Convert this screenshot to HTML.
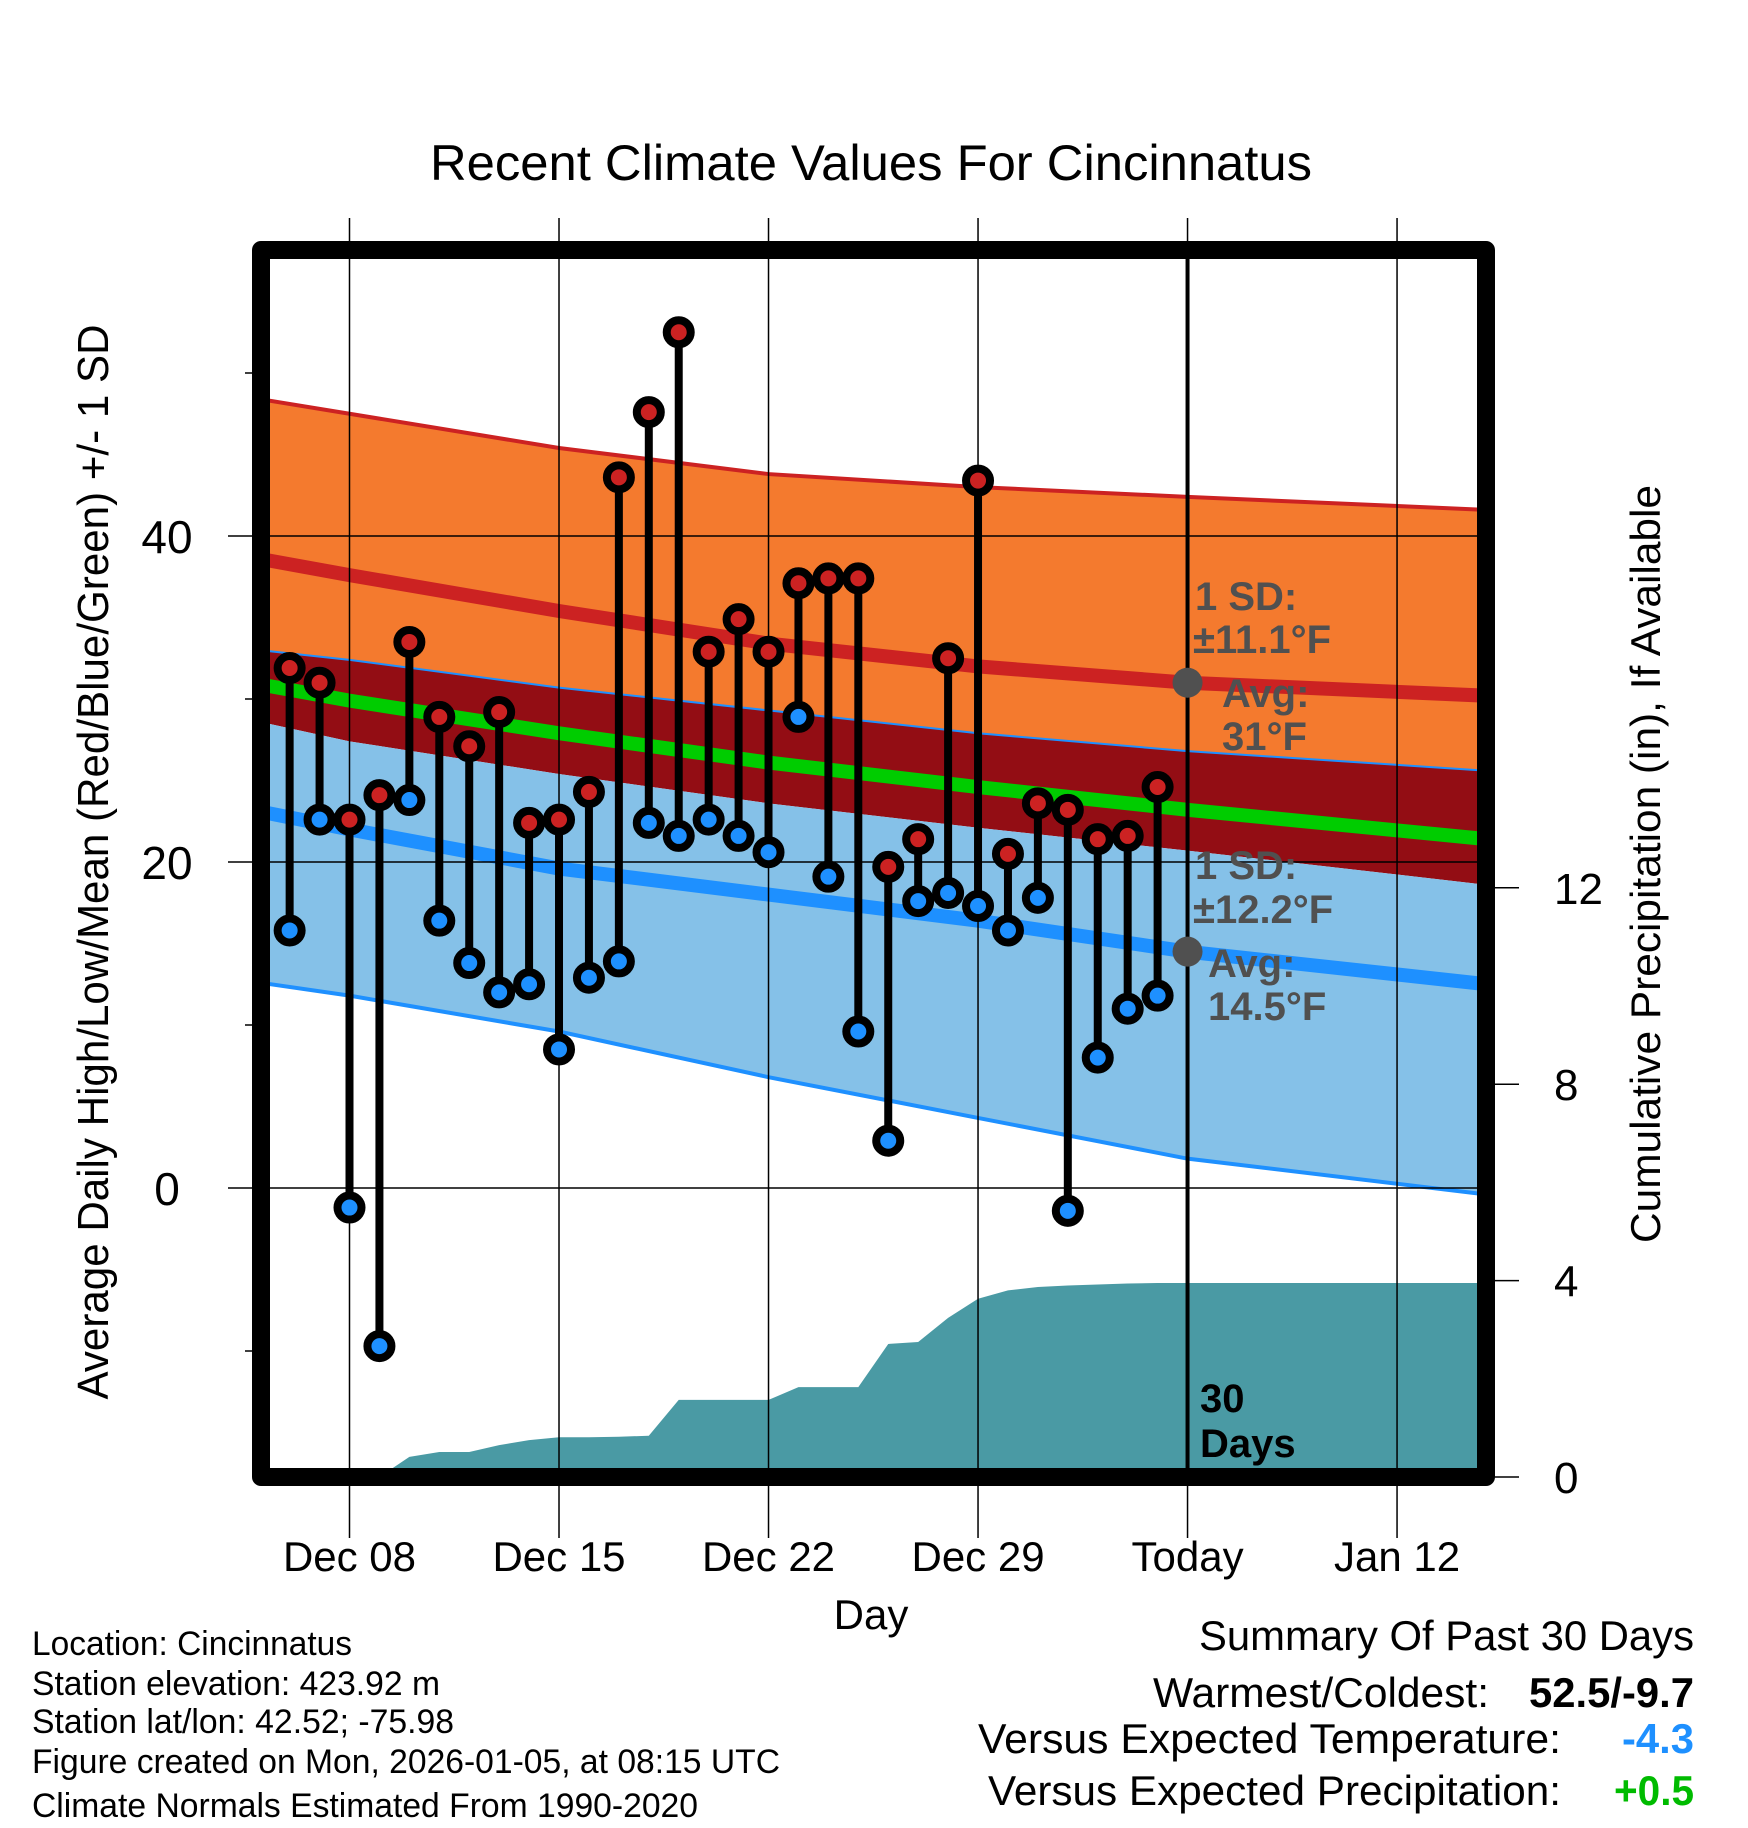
<!DOCTYPE html>
<html><head><meta charset="utf-8">
<style>
html,body{margin:0;padding:0;background:#fff;}
svg{display:block;font-family:"Liberation Sans",sans-serif;}
</style></head>
<body>
<svg id="chart" width="1748" height="1828" viewBox="0 0 1748 1828" xmlns="http://www.w3.org/2000/svg">
<defs><clipPath id="plotclip"><rect x="270" y="259" width="1207" height="1209"/></clipPath></defs>
<text x="871" y="180" font-size="50" text-anchor="middle" textLength="882" lengthAdjust="spacingAndGlyphs">Recent Climate Values For Cincinnatus</text>
<g id="plot" clip-path="url(#plotclip)"></g>
<g id="overlay"></g>
<text transform="translate(108,862) rotate(-90)" font-size="44" text-anchor="middle" textLength="1075" lengthAdjust="spacingAndGlyphs">Average Daily High/Low/Mean (Red/Blue/Green) +/- 1 SD</text>
<text transform="translate(1660,864) rotate(-90)" font-size="42" text-anchor="middle" textLength="758" lengthAdjust="spacingAndGlyphs">Cumulative Precipitation (in), If Available</text>
<text x="871" y="1629" font-size="42" text-anchor="middle">Day</text>
<g font-size="34">
<text x="32" y="1655" textLength="320" lengthAdjust="spacingAndGlyphs">Location: Cincinnatus</text>
<text x="32" y="1695" textLength="408" lengthAdjust="spacingAndGlyphs">Station elevation: 423.92 m</text>
<text x="32" y="1733" textLength="422" lengthAdjust="spacingAndGlyphs">Station lat/lon: 42.52; -75.98</text>
<text x="32" y="1773" textLength="748" lengthAdjust="spacingAndGlyphs">Figure created on Mon, 2026-01-05, at 08:15 UTC</text>
<text x="32" y="1817" textLength="666" lengthAdjust="spacingAndGlyphs">Climate Normals Estimated From 1990-2020</text>
</g>
<g font-size="42">
<text x="1199" y="1650" textLength="495" lengthAdjust="spacingAndGlyphs">Summary Of Past 30 Days</text>
<text x="1153" y="1707" textLength="336" lengthAdjust="spacingAndGlyphs">Warmest/Coldest:</text>
<text x="1529" y="1707" font-weight="bold" textLength="165" lengthAdjust="spacingAndGlyphs">52.5/-9.7</text>
<text x="978" y="1753" textLength="583" lengthAdjust="spacingAndGlyphs">Versus Expected Temperature:</text>
<text x="1622" y="1753" font-weight="bold" fill="#1E90FF" textLength="72" lengthAdjust="spacingAndGlyphs">-4.3</text>
<text x="988" y="1805" textLength="573" lengthAdjust="spacingAndGlyphs">Versus Expected Precipitation:</text>
<text x="1614" y="1805" font-weight="bold" fill="#00BB00" textLength="80" lengthAdjust="spacingAndGlyphs">+0.5</text>
</g>
</svg>
<script>
// ---- data ----
const dayLabels = ["Dec 06","Dec 07","Dec 08","Dec 09","Dec 10","Dec 11","Dec 12","Dec 13","Dec 14","Dec 15","Dec 16","Dec 17","Dec 18","Dec 19","Dec 20","Dec 21","Dec 22","Dec 23","Dec 24","Dec 25","Dec 26","Dec 27","Dec 28","Dec 29","Dec 30","Dec 31","Jan 01","Jan 02","Jan 03","Jan 04"];
const highs = [31.9,31.0,22.6,24.1,33.5,28.9,27.1,29.2,22.4,22.6,24.3,43.6,47.6,52.5,32.9,34.9,32.9,37.1,37.4,37.4,19.7,21.4,32.5,43.4,20.5,23.6,23.2,21.4,21.6,24.6];
const lows = [15.8,22.6,-1.2,-9.7,23.8,16.4,13.8,12.0,12.5,8.5,12.9,13.9,22.4,21.6,22.6,21.6,20.6,28.9,19.1,9.6,2.9,17.6,18.1,17.3,15.8,17.8,-1.4,8.0,11.0,11.8];
const precip = [0,0,0,0,0.41,0.51,0.51,0.65,0.75,0.81,0.81,0.82,0.84,1.57,1.57,1.57,1.57,1.83,1.83,1.83,2.71,2.75,3.24,3.63,3.8,3.87,3.9,3.92,3.94,3.95];
const precipAfter = [3.95,3.95]; // Jan 05, Jan 15
const normDays = [-3,0,7,14,21,28,38]; // days relative to Dec 08
const upperSdHigh = [48.4,47.5,45.4,43.8,43.0,42.4,41.6];
const avgHigh = [38.6,37.6,35.4,33.4,32.0,31.0,30.2];
const lowerSdHigh = [33.0,32.4,30.7,29.3,27.9,26.8,25.6];
const meanTemp = [30.9,29.9,27.9,26.1,24.6,23.2,21.4];
const upperSdLow = [28.6,27.4,25.4,23.6,22.1,20.7,18.6];
const avgLow = [23.1,22.0,19.6,18.0,16.4,14.5,12.5];
const lowerSdLow = [12.6,11.8,9.6,6.8,4.3,1.8,-0.4];
const xTickLabels = ["Dec 08","Dec 15","Dec 22","Dec 29","Today","Jan 12"];
const yTicks = [0,20,40];
const yMinorTicks = [-10,10,30,50];
const pTicks = [0,4,8,12];

// ---- scales ----
function X(d){ return 349.5 + d*29.93; }
function Y(t){ return 862 - (t-20)*16.3; }
function YP(p){ return 1477 - p*49.1; }
const NS="http://www.w3.org/2000/svg";
function mk(tag, attrs, parent){ const e=document.createElementNS(NS,tag); for(const k in attrs) e.setAttribute(k,attrs[k]); parent.appendChild(e); return e; }
const plot=document.getElementById('plot'), ov=document.getElementById('overlay'), svg=document.getElementById('chart');

function linePts(arr){ return normDays.map((d,i)=>X(d)+','+Y(arr[i])).join(' '); }
function band(top,bot,fill,name){
  const pts = normDays.map((d,i)=>X(d)+','+Y(top[i])).concat(normDays.slice().reverse().map((d,j)=>{const i=normDays.length-1-j;return X(d)+','+Y(bot[i]);}));
  const p=mk('polygon',{points:pts.join(' '),fill:fill},plot);
  
  
}
band(upperSdHigh,lowerSdHigh,'#F47A2E','high-sd-band');
band(lowerSdHigh,upperSdLow,'#930D14','overlap-band');
band(upperSdLow,lowerSdLow,'#85C1E8','low-sd-band');
function ln(arr,color,w,name){
  const p=mk('polyline',{points:linePts(arr),fill:'none',stroke:color,'stroke-width':w},plot);
  
  
}
ln(upperSdHigh,'#CC2222',4,'upper-sd-high-line');
ln(lowerSdHigh,'#1E90FF',2,'lower-sd-high-line');
ln(lowerSdLow,'#1E90FF',4,'lower-sd-low-line');
ln(avgHigh,'#CC2222',14,'avg-high-line');
ln(meanTemp,'#00CC00',14,'mean-line');
ln(avgLow,'#1E90FF',14,'avg-low-line');

(function(){
  const pts=[];
  precip.forEach((v,i)=>pts.push(X(i-2)+','+YP(v)));
  pts.push(X(28)+','+YP(precipAfter[0])); pts.push(X(38)+','+YP(precipAfter[1]));
  pts.push(X(38)+','+YP(-1)); pts.push(X(-2)+','+YP(-1));
  const p=mk('polygon',{points:pts.join(' '),fill:'#4A9AA4'},plot);
  
  
})();

for(let k=0;k<6;k++){
  const g=mk('line',{x1:X(k*7),x2:X(k*7),y1:218,y2:1538,stroke:'#000','stroke-width':1.5},ov);
  
  
}
yTicks.forEach(t=>{
  const g=mk('line',{x1:228,x2:1477,y1:Y(t),y2:Y(t),stroke:'#000','stroke-width':1.5},ov);
  
  
  const tx=mk('text',{x:167,y:Y(t)+17,'font-size':46,'text-anchor':'middle'},svg);
  tx.textContent=t;
  
  
});
yMinorTicks.forEach(t=>{
  const g=mk('line',{x1:245,x2:262,y1:Y(t),y2:Y(t),stroke:'#000','stroke-width':1.5},ov);
  
  
});
pTicks.forEach(p=>{
  const g=mk('line',{x1:1486,x2:1519,y1:YP(p),y2:YP(p),stroke:'#000','stroke-width':1.5},ov);
  
  
  const tx=mk('text',{x:1554,y:YP(p)+16,'font-size':44},svg);
  tx.textContent=p;
  
  
});
xTickLabels.forEach((l,k)=>{
  const tx=mk('text',{x:X(k*7),y:1571,'font-size':42,'text-anchor':'middle'},svg);
  tx.textContent=l;
  
  
});

const tl=mk('line',{x1:X(28),x2:X(28),y1:259,y2:1468,stroke:'#000','stroke-width':4},ov);



highs.forEach((h,i)=>{
  const x=X(i-2);
  const s=mk('line',{x1:x,x2:x,y1:Y(h),y2:Y(lows[i]),stroke:'#000','stroke-width':8},ov);
  
  
});
highs.forEach((h,i)=>{
  const x=X(i-2);
  const c1=mk('circle',{cx:x,cy:Y(h),r:12,fill:'#CC2222',stroke:'#000','stroke-width':8},ov);
  
  
  const c2=mk('circle',{cx:x,cy:Y(lows[i]),r:12,fill:'#1E90FF',stroke:'#000','stroke-width':8},ov);
  
  
});

const ann=[["1 SD:",1195,610],["\u00B111.1\u00B0F",1193,653],["Avg:",1222,707],["31\u00B0F",1222,750],["1 SD:",1195,879],["\u00B112.2\u00B0F",1193,923],["Avg:",1208,977],["14.5\u00B0F",1208,1020]];
ann.forEach(a=>{
  const tx=mk('text',{x:a[1],y:a[2],'font-size':40,'font-weight':'bold',fill:'#505050'},svg);
  tx.textContent=a[0];
  
  
});
[avgHigh[5],avgLow[5]].forEach(v=>{
  const c=mk('circle',{cx:X(28),cy:Y(v),r:15,fill:'#505050'},svg);
  
  
});
[["30",1412],["Days",1457]].forEach(a=>{
  const tx=mk('text',{x:1200,y:a[1],'font-size':40,'font-weight':'bold'},svg);
  tx.textContent=a[0];
  
  
});

const fr=mk('rect',{x:261,y:250,width:1225,height:1227,fill:'none',stroke:'#000','stroke-width':18,'stroke-linejoin':'round'},svg);


</script>
</body></html>
